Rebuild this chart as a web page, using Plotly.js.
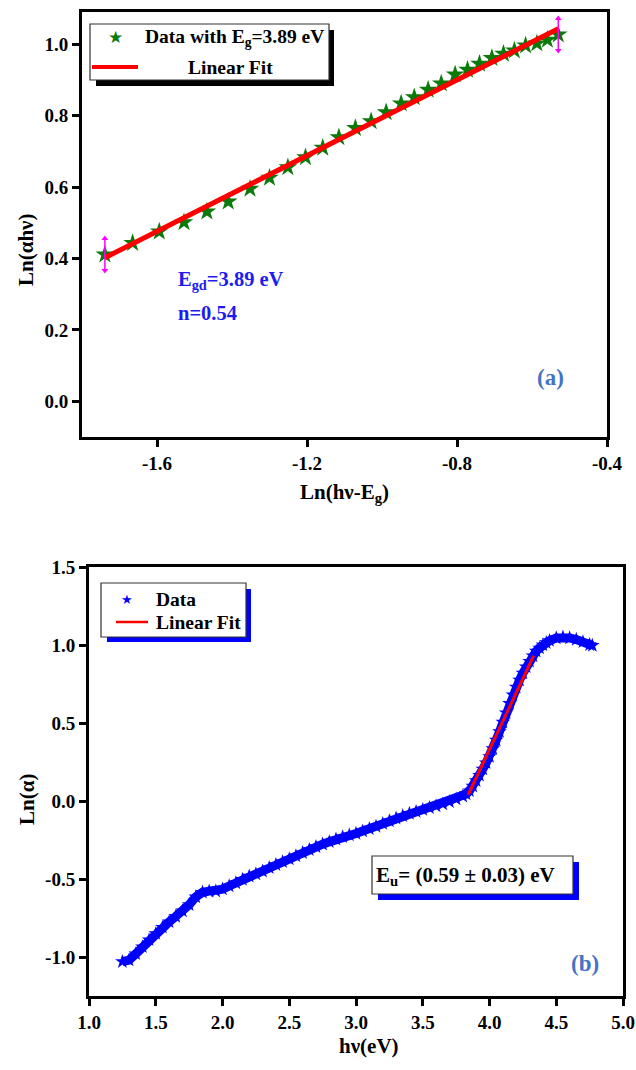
<!DOCTYPE html>
<html><head><meta charset="utf-8">
<script src="https://cdn.plot.ly/plotly-3.0.1.min.js"></script>
<style>html,body{margin:0;padding:0;background:#fff}#chart{width:636px;height:1070px}</style>
</head><body><div id="chart"></div>
<script>
// ---------- (a) data ----------
const topX = [-1.739,-1.665,-1.594,-1.528,-1.467,-1.410,-1.352,-1.300,-1.251,-1.204,-1.158,-1.115,-1.071,-1.029,-0.989,-0.949,-0.914,-0.877,-0.842,-0.805,-0.772,-0.740,-0.707,-0.676,-0.647,-0.617,-0.587,-0.559,-0.530];
const topY = [0.411,0.443,0.475,0.501,0.531,0.559,0.595,0.626,0.655,0.683,0.710,0.739,0.765,0.784,0.809,0.834,0.851,0.872,0.890,0.915,0.928,0.945,0.961,0.973,0.982,0.996,1.002,1.012,1.027];
const fitAX = [-1.739,-0.530];
const fitAY = [0.402,1.043];
const errA = 0.045;
const topXTicks = [-1.6,-1.2,-0.8,-0.4];
const topXLabels = ['-1.6','-1.2','-0.8','-0.4'];
const topYTicks = [0,0.2,0.4,0.6,0.8,1.0];
const topYLabels = ['0.0','0.2','0.4','0.6','0.8','1.0'];

// ---------- (b) data ----------
const botX = [1.25,1.30,1.35,1.40,1.45,1.50,1.55,1.60,1.65,1.70,1.75,1.80,1.85,1.90,1.95,2.00,2.05,2.10,2.15,2.20,2.25,2.30,2.35,2.40,2.45,2.50,2.55,2.60,2.65,2.70,2.75,2.80,2.85,2.90,2.95,3.00,3.05,3.10,3.15,3.20,3.25,3.30,3.35,3.40,3.45,3.50,3.55,3.60,3.65,3.70,3.75,3.80,3.825,3.85,3.875,3.90,3.925,3.95,3.975,4.00,4.025,4.05,4.075,4.10,4.125,4.15,4.175,4.20,4.225,4.25,4.275,4.30,4.325,4.35,4.375,4.40,4.425,4.45,4.50,4.55,4.60,4.65,4.70,4.75,4.77];
const botY = [-1.03,-1.02,-0.98,-0.935,-0.89,-0.85,-0.81,-0.775,-0.74,-0.705,-0.665,-0.615,-0.585,-0.578,-0.578,-0.565,-0.545,-0.525,-0.503,-0.482,-0.468,-0.450,-0.428,-0.408,-0.390,-0.372,-0.352,-0.332,-0.312,-0.293,-0.277,-0.262,-0.245,-0.230,-0.218,-0.208,-0.193,-0.178,-0.163,-0.145,-0.128,-0.110,-0.095,-0.080,-0.068,-0.055,-0.043,-0.032,-0.020,-0.005,0.012,0.030,0.045,0.065,0.095,0.13,0.165,0.205,0.245,0.285,0.335,0.39,0.445,0.505,0.565,0.625,0.68,0.73,0.775,0.82,0.86,0.895,0.93,0.96,0.98,1.0,1.015,1.028,1.045,1.05,1.045,1.035,1.02,1.002,0.997];
const fitBX = [3.84,4.33];
const fitBY = [0.04,0.93];
const botXTicks = [1.0,1.5,2.0,2.5,3.0,3.5,4.0,4.5,5.0];
const botXLabels = ['1.0','1.5','2.0','2.5','3.0','3.5','4.0','4.5','5.0'];
const botYTicks = [-1.0,-0.5,0,0.5,1.0,1.5];
const botYLabels = ['-1.0','-0.5','0.0','0.5','1.0','1.5'];

// ---------- layout helpers (pixel -> paper) ----------
const L=82, R=623, T=12, B=996, W=R-L, H=B-T;
const px = x => (x-L)/W;
const py = y => (B-y)/H;
const SERIF = 'Liberation Serif, Times New Roman, serif';
const bold = (size, color) => ({family: SERIF, size: size, color: color || '#000', weight: 'bold'});

const endIdx = [0, topX.length-1];
const errX = endIdx.map(i => topX[i]);
const errY = endIdx.map(i => topY[i]);

const traces = [
  {x: topX, y: topY, type:'scatter', mode:'markers', xaxis:'x', yaxis:'y',
   marker:{symbol:'star', size:14, color:'#0a7a0a', line:{width:0}}, showlegend:false, name:'Data with Eg=3.89 eV'},
  {x: fitAX, y: fitAY, type:'scatter', mode:'lines', xaxis:'x', yaxis:'y',
   line:{color:'#ff0000', width:5}, showlegend:false, name:'Linear Fit'},
  {x: errX, y: errY, type:'scatter', mode:'markers', xaxis:'x', yaxis:'y',
   marker:{size:1, color:'#ff00ff'}, error_y:{type:'constant', value:errA, color:'#ff00ff', thickness:1.5, width:0},
   showlegend:false, hoverinfo:'skip'},
  {x: errX, y: errY.map(v => v+errA), type:'scatter', mode:'markers', xaxis:'x', yaxis:'y',
   marker:{symbol:'triangle-up', size:6, color:'#ff00ff'}, showlegend:false, hoverinfo:'skip'},
  {x: errX, y: errY.map(v => v-errA), type:'scatter', mode:'markers', xaxis:'x', yaxis:'y',
   marker:{symbol:'triangle-down', size:6, color:'#ff00ff'}, showlegend:false, hoverinfo:'skip'},
  {x: botX, y: botY, type:'scatter', mode:'lines+markers', xaxis:'x2', yaxis:'y2',
   line:{color:'#0000ff', width:9}, marker:{symbol:'star', size:11, color:'#0000ff', line:{width:0}}, showlegend:false, name:'Data'},
  {x: fitBX, y: fitBY, type:'scatter', mode:'lines', xaxis:'x2', yaxis:'y2',
   line:{color:'#ff0000', width:3}, showlegend:false, name:'Linear Fit'}
];

const axisCommon = {showgrid:false, zeroline:false, showline:true, linecolor:'#000', linewidth:3, mirror:true,
  ticks:'outside', ticklen:7, tickwidth:3, tickcolor:'#000', tickfont: bold(19), tickmode:'array'};

const ann = (x, y, text, font, extra) => Object.assign({xref:'paper', yref:'paper', x:px(x), y:py(y), text:text,
  showarrow:false, xanchor:'center', yanchor:'middle', font:font}, extra || {});

const layout = {
  width:636, height:1070, paper_bgcolor:'#fff', plot_bgcolor:'#fff',
  margin:{l:L, r:636-R, t:T, b:1070-B}, showlegend:false,
  xaxis: Object.assign({}, axisCommon, {domain:[0,(607-L)/W], range:[-1.8,-0.4], anchor:'y',
    tickvals: topXTicks, ticktext: topXLabels}),
  yaxis: Object.assign({}, axisCommon, {domain:[py(437), 1], range:[-0.1,1.09], anchor:'x',
    tickvals: topYTicks, ticktext: topYLabels}),
  xaxis2: Object.assign({}, axisCommon, {domain:[px(89),1], range:[1,5], anchor:'y2',
    tickvals: botXTicks, ticktext: botXLabels}),
  yaxis2: Object.assign({}, axisCommon, {domain:[0, py(567)], range:[-1.25,1.5], anchor:'x2',
    tickvals: botYTicks, ticktext: botYLabels}),
  shapes: [
    // legend (a)
    {type:'rect', xref:'paper', yref:'paper', x0:px(96), x1:px(334), y0:py(86), y1:py(30), fillcolor:'#000', line:{width:0}},
    {type:'rect', xref:'paper', yref:'paper', x0:px(90), x1:px(329), y0:py(80), y1:py(24), fillcolor:'#fff', line:{color:'#333', width:1.2}},
    {type:'line', xref:'paper', yref:'paper', x0:px(92), x1:px(138), y0:py(67), y1:py(67), line:{color:'#ff0000', width:4}},
    // legend (b)
    {type:'rect', xref:'paper', yref:'paper', x0:px(107), x1:px(251), y0:py(642), y1:py(589), fillcolor:'#0000ff', line:{width:0}},
    {type:'rect', xref:'paper', yref:'paper', x0:px(101), x1:px(246), y0:py(637), y1:py(583), fillcolor:'#fff', line:{color:'#333', width:1.2}},
    {type:'line', xref:'paper', yref:'paper', x0:px(116), x1:px(148), y0:py(622), y1:py(622), line:{color:'#ff0000', width:2.5}},
    // Eu box
    {type:'rect', xref:'paper', yref:'paper', x0:px(378), x1:px(579), y0:py(900), y1:py(862), fillcolor:'#0000ff', line:{width:0}},
    {type:'rect', xref:'paper', yref:'paper', x0:px(372), x1:px(573), y0:py(894), y1:py(856), fillcolor:'#fff', line:{color:'#333', width:1.2}}
  ],
  annotations: [
    // axis titles
    ann(26, 250, 'Ln(αhν)', bold(21), {textangle:-90}),
    ann(344, 493, 'Ln(hν-E<sub>g</sub>)', bold(21)),
    ann(27, 800, 'Ln(α)', bold(21), {textangle:-90}),
    ann(369, 1046, 'hν(eV)', bold(21)),
    // legend (a)
    ann(115, 37, '★', {family:'DejaVu Sans', size:17, color:'#0a7a0a'}),
    ann(143, 38, 'Data with E<sub>g</sub>=3.89 eV', bold(19.5), {xanchor:'left'}),
    ann(230, 67, 'Linear Fit', bold(19.5)),
    // text (a)
    ann(176, 281, 'E<sub>gd</sub>=3.89 eV', bold(20.5,'#1c1cf0'), {xanchor:'left'}),
    ann(176, 313, 'n=0.54', bold(20.5,'#1c1cf0'), {xanchor:'left'}),
    ann(550, 377, '(a)', bold(23,'#4472c4')),
    // legend (b)
    ann(127, 599, '★', {family:'DejaVu Sans', size:13, color:'#0000ff'}),
    ann(154, 599, 'Data', bold(19.5), {xanchor:'left'}),
    ann(154, 622, 'Linear Fit', bold(19.5), {xanchor:'left'}),
    // text (b)
    ann(374, 876, 'E<sub>u</sub>= (0.59 ± 0.03) eV', bold(21), {xanchor:'left'}),
    ann(585, 963, '(b)', bold(23,'#4472c4'))
  ]
};

Plotly.newPlot('chart', traces, layout, {displayModeBar:false, staticPlot:true});
</script></body></html>
